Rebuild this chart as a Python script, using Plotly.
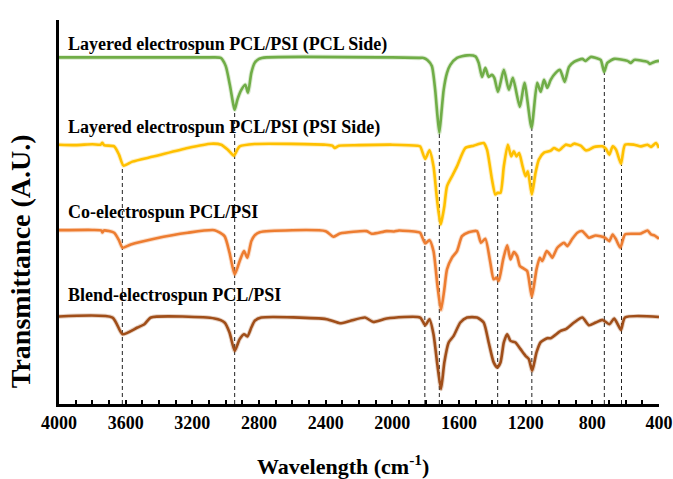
import plotly.graph_objects as go

# ---- data (wavenumber cm-1, transmittance in arbitrary offset units) ----
pcl_side_wn = [4000, 3100, 3030, 3000, 2975, 2955, 2946, 2930, 2906, 2882, 2866, 2846, 2826, 2800, 2756,
               2000, 1840, 1813, 1790, 1763, 1743, 1730, 1718, 1705, 1692, 1672, 1652, 1612, 1552, 1502,
               1482, 1462, 1442, 1422, 1402, 1388, 1366, 1331, 1301, 1277, 1235, 1207, 1165, 1131, 1110,
               1090, 1070, 1050, 1020, 994, 966, 940, 910, 860, 840, 810, 780, 750, 729, 710, 669, 589,
               569, 549, 469, 455, 428, 400]
pcl_side_t = [347.5, 347.5, 347, 339, 320, 301, 295, 305, 315, 320, 312, 332, 342, 346, 347.5,
              347.5, 347, 347, 345, 339, 315, 290, 272, 293, 315, 332, 340, 347, 349.5, 348.5,
              342, 328, 337, 328, 330, 327, 313, 335, 315, 327, 298, 322, 277, 322, 313,
              325, 317, 325, 332, 335, 323, 338, 343, 346, 344, 348, 347, 345, 333, 342, 346, 344,
              342, 345, 343, 341, 343, 344]

psi_side_wn = [4000, 3900, 3800, 3750, 3740, 3730, 3669, 3640, 3613, 3560, 3428, 3228, 3087, 3027, 2987,
               2951, 2930, 2916, 2826, 2400, 2360, 2345, 2320, 2200, 2000, 1850, 1833, 1803, 1777, 1753,
               1735, 1723, 1710, 1700, 1688, 1672, 1642, 1612, 1562, 1512, 1452, 1432, 1402, 1382, 1368,
               1351, 1331, 1307, 1287, 1271, 1255, 1239, 1221, 1201, 1187, 1163, 1141, 1121, 1090, 1050,
               1030, 1000, 960, 930, 910, 870, 840, 820, 790, 739, 718, 698, 678, 658, 628, 604, 549,
               508, 469, 448, 418, 400]
psi_side_t = [260, 259.5, 260.5, 260, 262, 259.5, 258.3, 250, 239, 243, 248.3, 256.7, 261, 260, 255,
              249, 255, 258.3, 260.7, 260, 259, 256.7, 259, 259.5, 260, 259, 258.3, 245.7, 254.3, 238.3,
              210, 193, 180, 187, 198.3, 218.3, 228.3, 238.3, 256.7, 259, 261.7, 255, 225, 210, 211.7,
              211.7, 238.3, 260, 248.3, 253.3, 248.3, 251.7, 240, 228.3, 233.3, 210, 231.7, 245, 252, 254,
              256.7, 254.3, 260, 259, 261, 259, 254.3, 255, 257.7, 258.3, 255.7, 250, 258.3, 255, 241, 260, 260,
              258.3, 260, 257.7, 261.7, 256.7]

co_wn = [4000, 3800, 3745, 3740, 3730, 3669, 3640, 3619, 3569, 3428, 3228, 3067, 3007, 2977, 2946,
         2916, 2890, 2870, 2846, 2826, 2796, 2400, 2354, 2314, 2154, 2124, 2034, 1990, 1960, 1850,
         1833, 1803, 1777, 1753, 1729, 1708, 1688, 1672, 1642, 1612, 1582, 1542, 1492, 1468, 1442,
         1412, 1392, 1375, 1362, 1335, 1311, 1291, 1271, 1251, 1235, 1211, 1191, 1163, 1135, 1115,
         1100, 1074, 1050, 1040, 1010, 970, 950, 920, 890, 860, 820, 780, 724, 698, 678, 658, 632,
         604, 549, 508, 469, 448, 428, 400]
co_t = [174.3, 174.5, 174, 172, 174, 171.7, 164, 156.7, 160, 165.7, 171.7, 174.3, 168.3, 151.7, 130,
        143.3, 153.3, 146.7, 163.3, 169, 172.3, 173.3, 167.7, 171, 173.3, 170.7, 173.3, 173, 174, 172.5,
        171.7, 161, 164.3, 153.3, 118.3, 94.3, 115, 135, 146.7, 153.3, 168.3, 172.3, 173.3, 161.7, 165.7,
        141.7, 125, 126.7, 123.3, 145, 159, 145, 152.3, 148.3, 138.3, 135.7, 133.3, 107.5, 135, 146.7,
        143.3, 153.3, 149, 146.7, 156.7, 161.7, 158.3, 165.7, 171.7, 173.3, 166.7, 169, 166.7, 163.3, 170, 165, 156.7,
        170, 170.7, 171, 174, 170, 169, 165.7]

blend_wn = [4000, 3679, 3619, 3529, 3488, 3448, 3067, 3007, 2977, 2946, 2916, 2890, 2870, 2846, 2826,
            2786, 2394, 2314, 2254, 2164, 2114, 2034, 1833, 1803, 1777, 1753, 1729, 1708, 1688, 1662,
            1632, 1592, 1552, 1492, 1452, 1422, 1392, 1371, 1351, 1331, 1311, 1291, 1261, 1231, 1201,
            1181, 1161, 1135, 1110, 1070, 1050, 990, 960, 910, 860, 820, 780, 739, 698, 669, 648, 628,
            604, 400]
blend_t = [87.7, 86.7, 70, 76.7, 80, 86.7, 85.7, 81.7, 71.7, 53.3, 65, 70, 67.7, 76.7, 83.3,
           86.7, 85, 81, 83.3, 86.7, 82.3, 85.7, 86.7, 79, 85, 70, 38.3, 15, 41.7, 61.7,
           68.3, 81.7, 86.7, 86.7, 81.7, 61.7, 41.7, 36.7, 41.7, 61.7, 70, 63.3, 61.7, 55, 48.3,
           45, 33.3, 51.7, 62, 66, 66, 73.3, 75, 81.7, 86.7, 79, 81.7, 84.3, 80, 85.7, 80, 74.3,
           86.7, 87.3]

series_names = ["Layered electrospun PCL/PSI (PCL Side)",
                "Layered electrospun PCL/PSI (PSI Side)",
                "Co-electrospun PCL/PSI",
                "Blend-electrospun PCL/PSI"]
label_y = [360, 277, 193, 109]

# reference peak positions (cm-1) and the top of each dashed marker line
peak_wn = [3620, 2946, 1805, 1718, 1368, 1163, 728, 625]
peak_top = [239, 295, 247, 272, 212, 277, 333, 240]

xtick_vals = [4000, 3600, 3200, 2800, 2400, 2000, 1600, 1200, 800, 400]

x_title = "Wavelength (cm<sup>-1</sup>)"
y_title = "Transmittance (A.U.)"

colors = ["#70AD47", "#FFC000", "#ED7D31", "#A04E19"]
FONT = "Liberation Serif"

fig = go.Figure()

# dashed peak marker lines
for wn, top in zip(peak_wn, peak_top):
    fig.add_trace(go.Scatter(x=[wn, wn], y=[0, top], mode="lines",
                             line=dict(color="#222222", width=1, dash="4px,3px"),
                             hoverinfo="skip", showlegend=False))

for wn, t, c, name in zip([pcl_side_wn, psi_side_wn, co_wn, blend_wn],
                          [pcl_side_t, psi_side_t, co_t, blend_t], colors, series_names):
    fig.add_trace(go.Scatter(x=wn, y=t, mode="lines", name=name,
                             line=dict(color=c, width=4.5, shape="spline", smoothing=0.6),
                             opacity=0.25, hoverinfo="skip", showlegend=False))
    fig.add_trace(go.Scatter(x=wn, y=t, mode="lines", name=name,
                             line=dict(color=c, width=2.6, shape="spline", smoothing=0.6),
                             showlegend=False))

for name, y in zip(series_names, label_y):
    fig.add_annotation(x=3960, y=y, xref="x", yref="y", text="<b>%s</b>" % name,
                       showarrow=False, xanchor="left", yanchor="middle",
                       font=dict(family=FONT, size=18, color="black"))

# axis titles
fig.add_annotation(x=0, y=0.372, xref="paper", yref="paper", xshift=-39,
                   text="<b>%s</b>" % y_title, textangle=-90, showarrow=False,
                   xanchor="center", yanchor="middle",
                   font=dict(family=FONT, size=28, color="black"))
fig.add_annotation(x=0.473, y=0, xref="paper", yref="paper", yshift=-61,
                   text="<b>%s</b>" % x_title, showarrow=False,
                   xanchor="center", yanchor="middle",
                   font=dict(family=FONT, size=22, color="black"))

fig.update_layout(
    width=673, height=479,
    margin=dict(l=59, r=14, t=20, b=75),
    plot_bgcolor="white", paper_bgcolor="white",
    font=dict(family=FONT, color="black"),
)
fig.update_xaxes(
    range=[4000, 400], showline=True, linecolor="black", linewidth=3,
    showgrid=False, zeroline=False, automargin=False,
    tickmode="array", tickvals=xtick_vals, ticktext=["<b>%d</b>" % v for v in xtick_vals],
    ticks="inside", ticklen=4, tickwidth=2, tickcolor="black",
    minor=dict(dtick=100, tick0=400, ticks="inside", ticklen=4, tickwidth=2, tickcolor="black"),
    tickfont=dict(family=FONT, size=18, color="black"),
)
fig.update_yaxes(
    range=[0, 385], showline=True, linecolor="black", linewidth=3,
    showgrid=False, zeroline=False, showticklabels=False, ticks="", automargin=False,
)

fig.write_html("out.html")
